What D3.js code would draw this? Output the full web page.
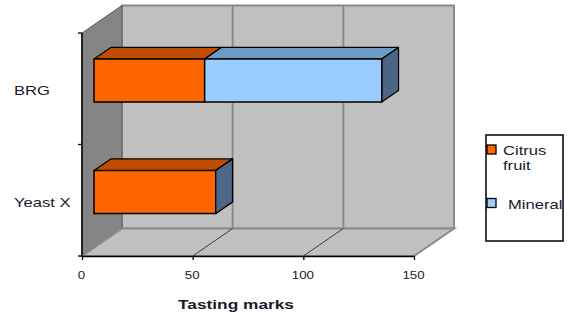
<!DOCTYPE html>
<html>
<head>
<meta charset="utf-8">
<script src="https://cdn.jsdelivr.net/npm/d3@7/dist/d3.min.js"></script>
<style>
  html, body { margin: 0; padding: 0; background: #fff; }
  svg { display: block; }
  text { font-family: "Liberation Sans", Arial, sans-serif; fill: #1a1a2a; }
</style>
</head>
<body>
<svg id="chart" width="567" height="320"></svg>
<script>
// Tasting marks per yeast, stacked by flavour note
const categories = ["BRG", "Yeast X"];
const citrus = [50, 55];
const mineral = [80, 0];
const xTicks = [0, 50, 100, 150];
const seriesNames = ["Citrus fruit", "Mineral"];
const legendLines = [["Citrus", "fruit"], ["Mineral"]];

const svg = d3.select("#chart");
const STRETCH = 1.33;           // wide-set lettering used throughout
const DX = 40, DY = -27.5;      // full depth of the 3-D box
const F0 = 0.3, F1 = 0.72;      // front/back depth of the bars

const x = d3.scaleLinear().domain([0, 150]).range([82, 414]);
const y = d3.scaleBand().domain(categories).range([33, 256])
  .paddingInner(0.614).paddingOuter(0.307);
const bw = y.bandwidth();
const yTop = y.range()[0], yBot = y.range()[1];
const xMin = x.range()[0], xMax = x.range()[1];

const pts = a => a.map(p => p.join(",")).join(" ");

// ---- walls and floor
const walls = svg.append("g");
walls.append("polygon")
  .attr("points", pts([[xMin + DX, yTop + DY], [xMax + DX, yTop + DY], [xMax + DX, yBot + DY], [xMin + DX, yBot + DY]]))
  .attr("fill", "#c0c0c0").attr("stroke", "#8a8a8a").attr("stroke-width", 2);
walls.append("polygon")
  .attr("points", pts([[xMin, yTop], [xMin + DX, yTop + DY], [xMin + DX, yBot + DY], [xMin, yBot]]))
  .attr("fill", "#858585").attr("stroke", "#5a5a5a").attr("stroke-width", 1);
walls.append("polygon")
  .attr("points", pts([[xMin, yBot], [xMax, yBot], [xMax + DX, yBot + DY], [xMin + DX, yBot + DY]]))
  .attr("fill", "#c0c0c0").attr("stroke", "#8a8a8a").attr("stroke-width", 2);

// gridlines: up the back wall and across the floor
xTicks.filter(t => t > 0 && t < 150).forEach(t => {
  walls.append("line")
    .attr("x1", x(t) + DX).attr("x2", x(t) + DX).attr("y1", yBot + DY).attr("y2", yTop + DY)
    .attr("stroke", "#8a8a8a").attr("stroke-width", 2);
  walls.append("line")
    .attr("x1", x(t)).attr("x2", x(t) + DX).attr("y1", yBot).attr("y2", yBot + DY)
    .attr("stroke", "#3a3a3a").attr("stroke-width", 1);
});

// ---- stacked 3-D bars
const colors = {
  front: ["#ff6600", "#99ccff"],
  top:   ["#c04c00", "#6f9ac3"],
  side:  ["#a04000", "#4d6586"]
};
const bars = svg.append("g");
categories.forEach((cat, i) => {
  const segs = [[0, citrus[i]], [citrus[i], citrus[i] + mineral[i]]];
  const yf = y(cat) + F0 * DY;      // top of the front face
  segs.forEach(([a, b], s) => {
    const xa = x(a) + F0 * DX, xb = x(b) + F0 * DX;
    const ddx = (F1 - F0) * DX, ddy = (F1 - F0) * DY;
    bars.append("polygon")
      .attr("points", pts([[xa, yf], [xb, yf], [xb + ddx, yf + ddy], [xa + ddx, yf + ddy]]))
      .attr("fill", colors.top[s]).attr("stroke", "#000").attr("stroke-width", 1.2)
      .attr("stroke-linejoin", "round");
    bars.append("polygon")
      .attr("points", pts([[xb, yf], [xb + ddx, yf + ddy], [xb + ddx, yf + bw + ddy], [xb, yf + bw]]))
      .attr("fill", colors.side[s]).attr("stroke", "#000").attr("stroke-width", 1.2)
      .attr("stroke-linejoin", "round");
    bars.append("rect")
      .attr("x", xa).attr("y", yf).attr("width", xb - xa).attr("height", bw)
      .attr("fill", colors.front[s]).attr("stroke", "#000").attr("stroke-width", 1.5);
  });
});

// ---- axes
const xAxis = svg.append("g").attr("transform", `translate(0,${yBot})`)
  .call(d3.axisBottom(x).tickValues(xTicks).tickSize(4).tickSizeOuter(0));
xAxis.select(".domain").attr("stroke", "#000").attr("stroke-width", 1.5);
xAxis.selectAll(".tick line").attr("stroke", "#000").attr("stroke-width", 1.3);
xAxis.selectAll(".tick text")
  .attr("y", 0).attr("dy", 0)
  .attr("transform", `translate(-1,23) scale(${STRETCH},1)`)
  .style("font-size", "10px").style("font-family", "Liberation Sans, Arial, sans-serif")
  .attr("fill", "#1a1a2a");

const yAxis = svg.append("g");
yAxis.append("line")
  .attr("x1", xMin).attr("x2", xMin).attr("y1", yTop).attr("y2", yBot)
  .attr("stroke", "#000").attr("stroke-width", 1.5);
const bounds = [yTop].concat(categories.map(c => y(c) + bw + y.step() * y.paddingInner() / 2));
bounds.forEach(v => {
  yAxis.append("line")
    .attr("x1", xMin - 4).attr("x2", xMin).attr("y1", v).attr("y2", v)
    .attr("stroke", "#000").attr("stroke-width", 1.3);
});
categories.forEach(cat => {
  yAxis.append("text")
    .attr("transform", `translate(14,${y(cat) + bw / 2 + 6.3}) scale(${STRETCH},1)`)
    .style("font-size", "12.5px")
    .text(cat);
});

// axis title
svg.append("text")
  .attr("transform", `translate(236,308.5) scale(${STRETCH},1)`)
  .attr("text-anchor", "middle")
  .style("font-size", "13px").style("font-weight", "bold")
  .text("Tasting marks");

// ---- legend
const legend = svg.append("g");
legend.append("rect")
  .attr("x", 486).attr("y", 135).attr("width", 77).attr("height", 106)
  .attr("fill", "#fff").attr("stroke", "#000").attr("stroke-width", 1.5);
const legendRows = [
  { y: 145, textX: 503, base: 154.5 },
  { y: 198.5, textX: 508, base: 209 }
];
seriesNames.forEach((name, s) => {
  const r = legendRows[s];
  legend.append("rect")
    .attr("x", 487).attr("y", r.y).attr("width", 9).attr("height", 9)
    .attr("fill", colors.front[s]).attr("stroke", "#000").attr("stroke-width", 1.3);
  legendLines[s].forEach((line, k) => {
    legend.append("text")
      .attr("transform", `translate(${r.textX},${r.base + k * 15}) scale(${STRETCH},1)`)
      .style("font-size", "12.5px")
      .text(line);
  });
});
</script>
</body>
</html>
